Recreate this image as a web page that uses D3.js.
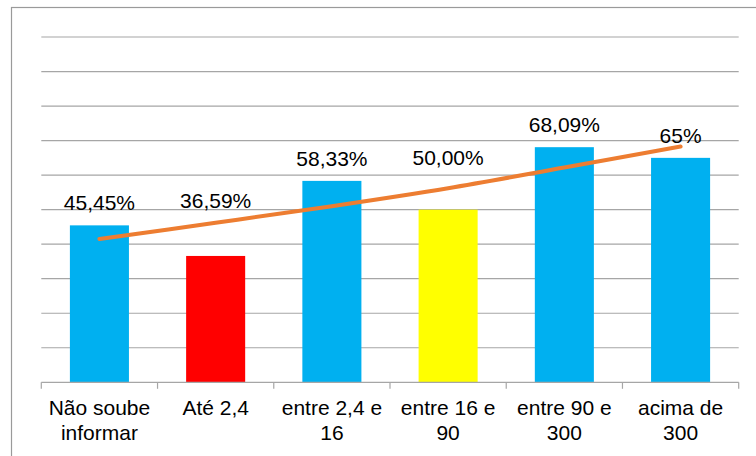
<!DOCTYPE html>
<html>
<head>
<meta charset="utf-8">
<script src="https://cdn.jsdelivr.net/npm/d3@7"></script>
<style>
  html, body { margin: 0; padding: 0; background: #fff; }
  svg { display: block; }
  text { font-family: "Liberation Sans", Arial, sans-serif; fill: #000; }
</style>
</head>
<body>
<svg id="chart" width="756" height="456"></svg>
<script>
// Categories (faixa) and share values in percent
const categories = ["Não soube informar", "Até 2,4", "entre 2,4 e 16", "entre 16 e 90", "entre 90 e 300", "acima de 300"];
const values = [45.45, 36.59, 58.33, 50.00, 68.09, 65];
const valueLabels = ["45,45%", "36,59%", "58,33%", "50,00%", "68,09%", "65%"];
const barColors = ["#00B0F0", "#FF0000", "#00B0F0", "#FFFF00", "#00B0F0", "#00B0F0"];
// Trend line values at each category
const trendValues = [41.5, 46.2, 51.0, 56.2, 62.2, 68.3];
const yTicks = [10, 20, 30, 40, 50, 60, 70, 80, 90, 100];

const svg = d3.select("#chart");
const W = 756, H = 456;
const plot = { left: 41.3, right: 738.7, top: 37, bottom: 382.3 };
const fontSize = 20;
const stretch = 1.05; // text is drawn slightly wide

// Outer chart border (extends past right/bottom edges)
svg.append("rect")
  .attr("x", 11.5).attr("y", 7.5)
  .attr("width", W + 20).attr("height", H + 20)
  .attr("fill", "#fff")
  .attr("stroke", "#9a9a9a").attr("stroke-width", 1.2);

const x = d3.scaleBand()
  .domain(categories)
  .range([plot.left, plot.right])
  .paddingInner(0.492)
  .paddingOuter(0.246);

const y = d3.scaleLinear().domain([0, 100]).range([plot.bottom, plot.top]);

// Horizontal gridlines
svg.append("g")
  .selectAll("line")
  .data(yTicks)
  .join("line")
  .attr("x1", plot.left).attr("x2", plot.right)
  .attr("y1", d => y(d)).attr("y2", d => y(d))
  .attr("stroke", "#a6a6a6").attr("stroke-width", 1.2);

// Bars
svg.append("g")
  .selectAll("rect")
  .data(categories)
  .join("rect")
  .attr("x", d => x(d))
  .attr("width", x.bandwidth())
  .attr("y", (d, i) => y(values[i]))
  .attr("height", (d, i) => y(0) - y(values[i]))
  .attr("fill", (d, i) => barColors[i]);

// Category axis with tick marks at band boundaries
const step = x.step();
const boundaries = d3.range(categories.length + 1).map(i => plot.left + i * step);
const axisG = svg.append("g");
axisG.append("line")
  .attr("x1", plot.left).attr("x2", plot.right)
  .attr("y1", plot.bottom).attr("y2", plot.bottom)
  .attr("stroke", "#a6a6a6").attr("stroke-width", 1.2);
axisG.selectAll("line.tick")
  .data(boundaries)
  .join("line")
  .attr("class", "tick")
  .attr("x1", d => d).attr("x2", d => d)
  .attr("y1", plot.bottom).attr("y2", plot.bottom + 6.5)
  .attr("stroke", "#a6a6a6").attr("stroke-width", 1.2);

// Places a text group at (cx, cy) with a slight horizontal stretch
function placed(parent, cx, cy) {
  return parent.append("g")
    .attr("transform", `translate(${cx},${cy}) scale(${stretch},1)`)
    .append("text")
    .attr("text-anchor", "middle")
    .attr("font-size", fontSize);
}

// Category labels, wrapped to the band width
const catG = svg.append("g");
categories.forEach(d => {
  const cx = x(d) + x.bandwidth() / 2;
  const t = placed(catG, cx, 414.7);
  const words = d.split(" ");
  const lines = [];
  let line = [];
  const probe = t.append("tspan");
  words.forEach(w => {
    const trial = line.concat([w]).join(" ");
    probe.text(trial);
    if (probe.node().getComputedTextLength() * stretch > step - 6 && line.length) {
      lines.push(line.join(" "));
      line = [w];
    } else {
      line.push(w);
    }
  });
  if (line.length) lines.push(line.join(" "));
  probe.remove();
  lines.forEach((l, i) => {
    t.append("tspan").attr("x", 0).attr("dy", i === 0 ? 0 : 25.7).text(l);
  });
});

// Trend line
const trend = d3.line()
  .x((d, i) => x(categories[i]) + x.bandwidth() / 2)
  .y(d => y(d))
  .curve(d3.curveCatmullRom);

svg.append("path")
  .datum(trendValues)
  .attr("d", trend)
  .attr("fill", "none")
  .attr("stroke", "#ED7D31")
  .attr("stroke-width", 4)
  .attr("stroke-linecap", "round");

// Value labels; two labels sit raised above their bars
const labelLift = { "Até 2,4": 33, "entre 16 e 90": 29 };
const valG = svg.append("g");
categories.forEach((d, i) => {
  const cx = x(d) + x.bandwidth() / 2;
  const cy = y(values[i]) - 15.3 - (labelLift[d] || 0);
  placed(valG, cx, cy).text(valueLabels[i]);
});
</script>
</body>
</html>
